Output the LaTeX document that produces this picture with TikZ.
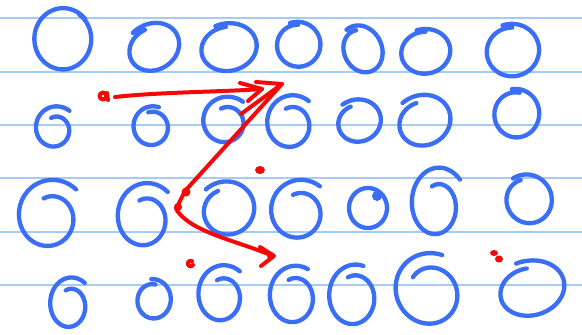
\documentclass[tikz,border=0pt]{standalone}
\usepackage{tikz}
\definecolor{padRule}{RGB}{162,205,250}
\definecolor{padInk}{RGB}{58,110,245}
\definecolor{padRed}{RGB}{245,8,8}

\begin{document}
\begin{tikzpicture}[
    x=0.03cm, y=-0.03cm,
    rule/.style={draw=padRule, line width=1.6pt},
    ink/.style={draw=padInk, line width=3.7pt, line cap=round, line join=round},
    pen/.style={draw=padRed, line width=3.4pt, line cap=round, line join=round}
  ]
  \useasboundingbox[fill=white] (0,0) rectangle (582,335);
  % ruled paper
  \foreach \yy in {18,72,125,178,232,285}
    \draw[rule] (0,\yy) -- (582,\yy);
  % blue loops: centre / radii / tilt / start and end angle / start and end scale
  \foreach \cx/\cy/\rx/\ry/\p/\ta/\tb/\ra/\rb in {
      63/39/29/31/0/40/415/1.0/0.97, 153/48/26/22/30/85/470/0.9/1.12,
      228/48/28/23/12/85/465/0.92/1.08, 298/45/22/22/10/80/460/0.92/1.06,
      362/50/19/23/25/80/465/0.9/1.12, 425/52/25/22/10/80/460/0.92/1.05,
      512/51/27/26/15/75/455/0.9/1.05,
      55/129/18/19/0/50/470/1.25/0.62, 152/127/20/21/0/70/465/1.0/0.72,
      226/122/22/22/0/50/470/1.2/0.65, 291/124/23/25/0/50/470/1.2/0.65,
      358/122/22/20/20/95/470/0.85/1.15, 423/122/28/25/25/85/470/0.8/1.1,
      516/114/23/24/0/80/460/0.9/1.05,
      50/217/32/34/0/45/470/1.15/0.58, 145/218/28/32/0/45/470/1.15/0.58,
      227/210/29/28/25/90/470/0.75/1.05, 299/212/27/28/0/50/470/1.2/0.65,
      368/208/19/20/0/70/440/1.0/1.0, 437/205/25/33/0/40/470/1.2/0.6,
      528/200/24/25/30/80/455/0.85/1.05,
      70/305/20/25/0/50/470/1.15/0.62, 153/300/19/21/0/80/455/0.75/1.0,
      222/296/24/28/0/50/470/1.15/0.6, 294/297/24/28/0/60/470/1.15/0.65,
      354/297/25/30/0/70/470/1.1/0.7, 430/292/33/35/30/40/470/1.15/0.65,
      530/290/37/29/15/85/460/0.75/1.02}
    \draw[ink] plot[smooth, domain=\ta:\tb, samples=60, variable=\t]
      ({\cx + (\ra+(\rb-\ra)*(\t-\ta)/(\tb-\ta))*(\rx*cos(\t)*cos(\p) - \ry*sin(\t)*sin(\p))},
       {\cy - (\ra+(\rb-\ra)*(\t-\ta)/(\tb-\ta))*(\rx*cos(\t)*sin(\p) + \ry*sin(\t)*cos(\p))});
  \fill[padInk] (377,196) circle (5);
  % red pen marks
  \draw[pen] (103,96) circle (3.5) (107,93) -- (108,100);
  \draw[pen] (115,97) .. controls (160,92) and (220,92) .. (262,89);
  \draw[pen] (240,83) -- (262,89) -- (248,101);
  \draw[pen] (256,82) -- (282,84) -- (241,114);
  \draw[pen] (282,84) -- (185,191) -- (176,209)
    .. controls (190,232) and (235,240) .. (273,256);
  \draw[pen] (260,247) -- (274,256) -- (261,266);
  \fill[padRed] (186,192) circle (4.5) (178,207) circle (4) (271,256) circle (4);
  \fill[padRed] (260,170) ellipse (5 and 4);
  \draw[pen] (193,265) arc (30:300:2.8);
  \fill[padRed] (494,253) ellipse (4 and 3) (499,259) ellipse (4 and 3.5);
\end{tikzpicture}
\end{document}
